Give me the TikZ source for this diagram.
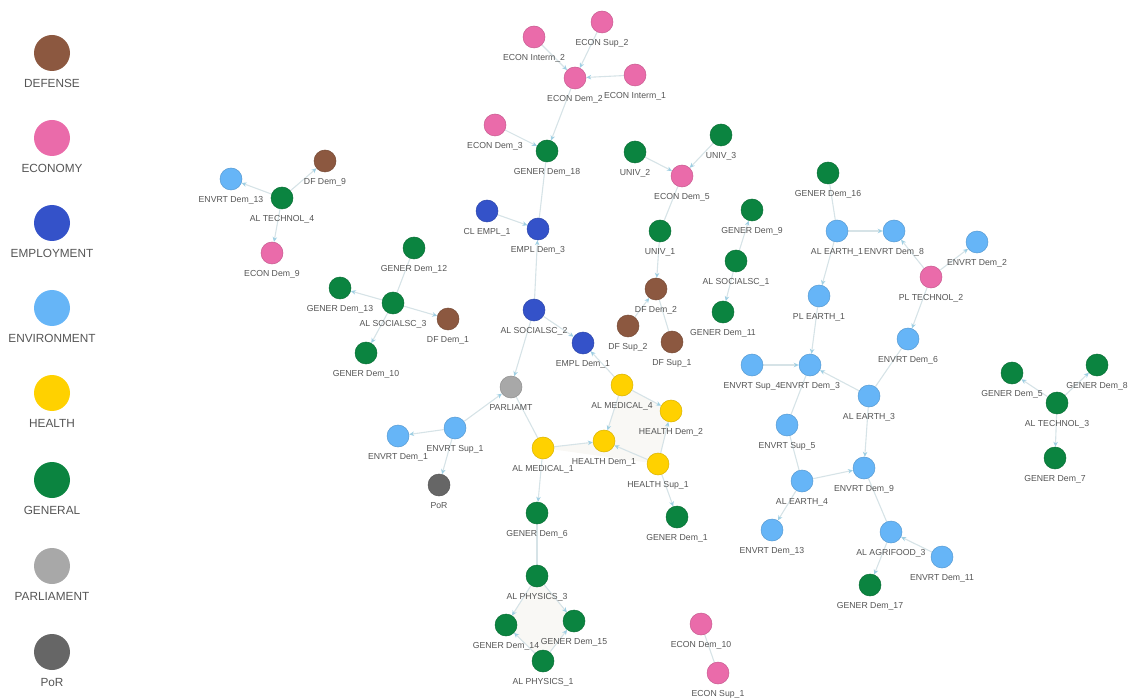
\documentclass[tikz,border=0pt]{standalone}
\usepackage{fontspec}
\setmainfont{Liberation Sans}
\usetikzlibrary{arrows.meta}
\pgfdeclarelayer{background}
\pgfsetlayers{background,main}
\definecolor{cdef}{HTML}{8C5840}
\definecolor{cecon}{HTML}{EA6BAA}
\definecolor{cempl}{HTML}{3452C9}
\definecolor{cenv}{HTML}{66B5F7}
\definecolor{chealth}{HTML}{FFD100}
\definecolor{cgen}{HTML}{0B8440}
\definecolor{cparl}{HTML}{A8A8A8}
\definecolor{cpor}{HTML}{666666}
\definecolor{edgec}{HTML}{D6E3E7}
\definecolor{arrc}{HTML}{9FCFE3}
\definecolor{labc}{HTML}{555555}
\definecolor{hullc}{HTML}{F9F8F5}
\tikzset{
  nd/.style={circle,minimum size=22pt,inner sep=0pt,fill=#1,draw=#1!85!black,line width=0.5pt},
  lgd/.style={circle,minimum size=36pt,inner sep=0pt,fill=#1,draw=none},
  lbl/.style={font=\fontsize{8.7}{10}\selectfont,text=labc,inner sep=0pt,text height=6.3pt,text depth=2pt},
  lgl/.style={font=\fontsize{11.8}{13}\selectfont,text=labc,inner sep=0pt,text height=8.5pt,text depth=0pt},
  edge/.style={draw=edgec,line width=1.1pt,-{Stealth[length=5pt,width=4.5pt,color=arrc]}},
  pedge/.style={draw=edgec,line width=1.1pt},
  hull/.style={fill=hullc,draw=none}
}
\newcommand\gnode[5]{\node[nd=#4,label={[lbl]below:#5}] (#1) at (#2,#3) {};}
\newcommand\lnode[4]{\node[lgd=#3,label={[lgl]below:#4}] (#1) at (52,#2) {};}
\begin{document}
\begin{tikzpicture}[x=1pt,y=-1pt,label distance=5.7pt]
\useasboundingbox (0,0) rectangle (1134,700);
% legend
\begin{scope}[label distance=7.5pt]
\lnode{lg1}{53}{cdef}{DEFENSE}
\lnode{lg2}{138}{cecon}{ECONOMY}
\lnode{lg3}{223}{cempl}{EMPLOYMENT}
\lnode{lg4}{308}{cenv}{ENVIRONMENT}
\lnode{lg5}{393}{chealth}{HEALTH}
\lnode{lg6}{480}{cgen}{GENERAL}
\lnode{lg7}{566}{cparl}{PARLIAMENT}
\lnode{lg8}{652}{cpor}{PoR}
\end{scope}
% nodes
\gnode{es2}{602}{22}{cecon}{ECON Sup\_2}
\gnode{ei2}{534}{37}{cecon}{ECON Interm\_2}
\gnode{ei1}{635}{75}{cecon}{ECON Interm\_1}
\gnode{ed2}{575}{78}{cecon}{ECON Dem\_2}
\gnode{ed3}{495}{125}{cecon}{ECON Dem\_3}
\gnode{gd18}{547}{151}{cgen}{GENER Dem\_18}
\gnode{u2}{635}{152}{cgen}{UNIV\_2}
\gnode{u3}{721}{135}{cgen}{UNIV\_3}
\gnode{ed5}{682}{176}{cecon}{ECON Dem\_5}
\gnode{u1}{660}{231}{cgen}{UNIV\_1}
\gnode{gd9}{752}{210}{cgen}{GENER Dem\_9}
\gnode{gd16}{828}{173}{cgen}{GENER Dem\_16}
\gnode{cle}{487}{211}{cempl}{CL EMPL\_1}
\gnode{emd3}{538}{229}{cempl}{EMPL Dem\_3}
\gnode{dd9}{325}{161}{cdef}{DF Dem\_9}
\gnode{evda}{231}{179}{cenv}{ENVRT Dem\_13}
\gnode{alt4}{282}{198}{cgen}{AL TECHNOL\_4}
\gnode{ed9}{272}{253}{cecon}{ECON Dem\_9}
\gnode{gd12}{414}{248}{cgen}{GENER Dem\_12}
\gnode{gd13}{340}{288}{cgen}{GENER Dem\_13}
\gnode{als3}{393}{303}{cgen}{AL SOCIALSC\_3}
\gnode{dd1}{448}{319}{cdef}{DF Dem\_1}
\gnode{gd10}{366}{353}{cgen}{GENER Dem\_10}
\gnode{als2}{534}{310}{cempl}{AL SOCIALSC\_2}
\gnode{emd1}{583}{343}{cempl}{EMPL Dem\_1}
\gnode{dd2}{656}{289}{cdef}{DF Dem\_2}
\gnode{dsp2}{628}{326}{cdef}{DF Sup\_2}
\gnode{dsp1}{672}{342}{cdef}{DF Sup\_1}
\gnode{als1}{736}{261}{cgen}{AL SOCIALSC\_1}
\gnode{gd11}{723}{312}{cgen}{GENER Dem\_11}
\gnode{ale1}{837}{231}{cenv}{AL EARTH\_1}
\gnode{evd8}{894}{231}{cenv}{ENVRT Dem\_8}
\gnode{evd2}{977}{242}{cenv}{ENVRT Dem\_2}
\gnode{plt2}{931}{277}{cecon}{PL TECHNOL\_2}
\gnode{ple1}{819}{296}{cenv}{PL EARTH\_1}
\gnode{evd6}{908}{339}{cenv}{ENVRT Dem\_6}
\gnode{evs4}{752}{365}{cenv}{ENVRT Sup\_4}
\gnode{evd3}{810}{365}{cenv}{ENVRT Dem\_3}
\gnode{ale3}{869}{396}{cenv}{AL EARTH\_3}
\gnode{evs5}{787}{425}{cenv}{ENVRT Sup\_5}
\gnode{evd9}{864}{468}{cenv}{ENVRT Dem\_9}
\gnode{ale4}{802}{481}{cenv}{AL EARTH\_4}
\gnode{evdb}{772}{530}{cenv}{ENVRT Dem\_13}
\gnode{alag}{891}{532}{cenv}{AL AGRIFOOD\_3}
\gnode{evd11}{942}{557}{cenv}{ENVRT Dem\_11}
\gnode{gd17}{870}{585}{cgen}{GENER Dem\_17}
\gnode{par}{511}{387}{cparl}{PARLIAMT}
\gnode{evs1}{455}{428}{cenv}{ENVRT Sup\_1}
\gnode{evd1}{398}{436}{cenv}{ENVRT Dem\_1}
\gnode{por}{439}{485}{cpor}{PoR}
\gnode{alm4}{622}{385}{chealth}{AL MEDICAL\_4}
\gnode{hd2}{671}{411}{chealth}{HEALTH Dem\_2}
\gnode{hd1}{604}{441}{chealth}{HEALTH Dem\_1}
\gnode{alm1}{543}{448}{chealth}{AL MEDICAL\_1}
\gnode{hs1}{658}{464}{chealth}{HEALTH Sup\_1}
\gnode{gd6}{537}{513}{cgen}{GENER Dem\_6}
\gnode{gd1}{677}{517}{cgen}{GENER Dem\_1}
\gnode{alp3}{537}{576}{cgen}{AL PHYSICS\_3}
\gnode{gd14}{506}{625}{cgen}{GENER Dem\_14}
\gnode{gd15}{574}{621}{cgen}{GENER Dem\_15}
\gnode{alp1}{543}{661}{cgen}{AL PHYSICS\_1}
\gnode{ed10}{701}{624}{cecon}{ECON Dem\_10}
\gnode{es1}{718}{673}{cecon}{ECON Sup\_1}
\gnode{gd5}{1012}{373}{cgen}{GENER Dem\_5}
\gnode{gd8}{1097}{365}{cgen}{GENER Dem\_8}
\gnode{alt3}{1057}{403}{cgen}{AL TECHNOL\_3}
\gnode{gd7}{1055}{458}{cgen}{GENER Dem\_7}
\begin{pgfonlayer}{background}
% hull shading
\fill[hull] (alp3.center) -- (gd15.center) -- (alp1.center) -- (gd14.center) -- cycle;
\fill[hull] (alm4.center) -- (hd2.center) -- (hs1.center) -- (hd1.center) -- cycle;
\fill[hull] (alm1.center) -- (hd1.center) -- (hs1.center) -- cycle;
% edges
\path[edge] (ei2) -- (ed2);
\path[edge] (es2) -- (ed2);
\path[edge] (ei1) -- (ed2);
\path[edge] (ed2) -- (gd18);
\path[edge] (ed3) -- (gd18);
\path[pedge] (gd18) -- (emd3);
\path[edge] (cle) -- (emd3);
\path[edge] (als2) -- (emd3);
\path[edge] (als2) -- (emd1);
\path[edge] (als2) -- (par);
\path[edge] (alm4) -- (emd1);
\path[edge] (u2) -- (ed5);
\path[edge] (u3) -- (ed5);
\path[pedge] (ed5) -- (u1);
\path[edge] (u1) -- (dd2);
\path[edge] (dsp2) -- (dd2);
\path[pedge] (dsp1) -- (dd2);
\path[edge] (als1) -- (gd9);
\path[edge] (als1) -- (gd11);
\path[pedge] (gd16) -- (ale1);
\path[edge] (ale1) -- (evd8);
\path[edge] (plt2) -- (evd8);
\path[edge] (plt2) -- (evd2);
\path[edge] (plt2) -- (evd6);
\path[edge] (ale1) -- (ple1);
\path[edge] (ple1) -- (evd3);
\path[edge] (evs4) -- (evd3);
\path[edge] (ale3) -- (evd3);
\path[pedge] (evd6) -- (ale3);
\path[pedge] (evd3) -- (evs5);
\path[pedge] (evs5) -- (ale4);
\path[edge] (ale3) -- (evd9);
\path[edge] (ale4) -- (evd9);
\path[edge] (ale4) -- (evdb);
\path[pedge] (evd9) -- (alag);
\path[edge] (evd11) -- (alag);
\path[edge] (alag) -- (gd17);
\path[edge] (alt4) -- (evda);
\path[edge] (alt4) -- (ed9);
\path[edge] (alt4) -- (dd9);
\path[edge] (als3) -- (gd13);
\path[edge] (als3) -- (dd1);
\path[edge] (als3) -- (gd10);
\path[pedge] (als3) -- (gd12);
\path[edge] (evs1) -- (par);
\path[edge] (evs1) -- (evd1);
\path[edge] (evs1) -- (por);
\path[pedge] (par) -- (alm1);
\path[edge] (alm1) -- (hd1);
\path[edge] (alm1) -- (gd6);
\path[edge] (alm4) -- (hd1);
\path[edge] (alm4) -- (hd2);
\path[edge] (hs1) -- (hd1);
\path[edge] (hs1) -- (hd2);
\path[edge] (hs1) -- (gd1);
\path[pedge] (gd6) -- (alp3);
\path[edge] (alp3) -- (gd14);
\path[edge] (alp3) -- (gd15);
\path[edge] (alp1) -- (gd14);
\path[edge] (alp1) -- (gd15);
\path[pedge] (ed10) -- (es1);
\path[edge] (alt3) -- (gd5);
\path[edge] (alt3) -- (gd8);
\path[edge] (alt3) -- (gd7);
\end{pgfonlayer}
\end{tikzpicture}
\end{document}
